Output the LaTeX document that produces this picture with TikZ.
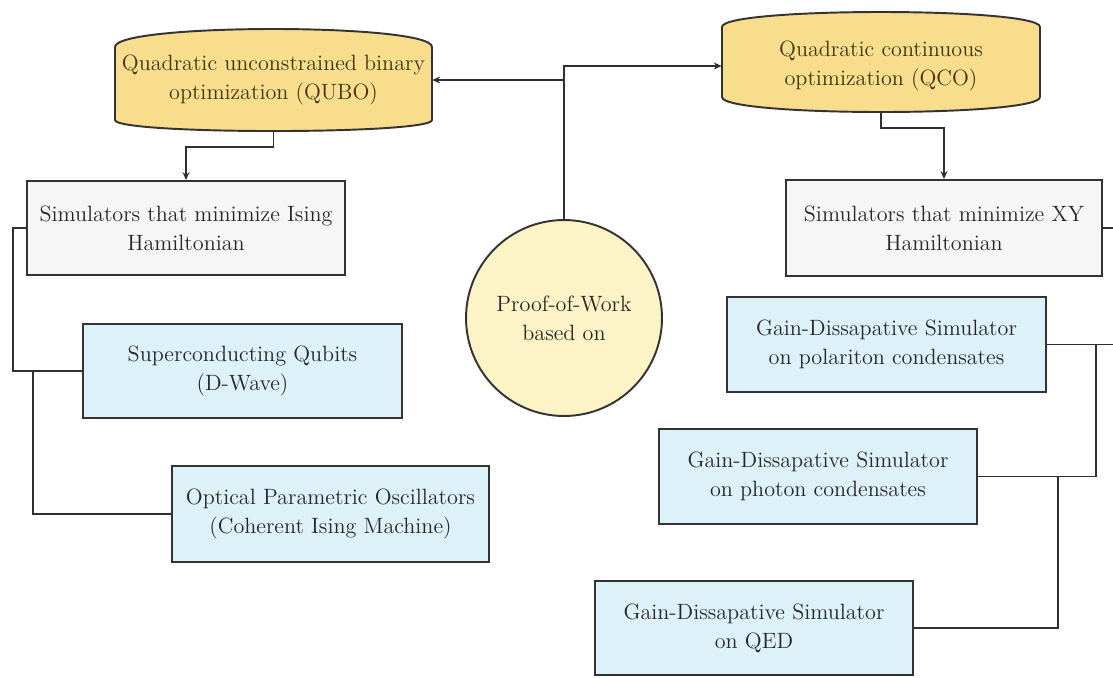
\documentclass[tikz,border=0pt]{standalone}
\usetikzlibrary{arrows.meta,shapes.geometric}
\definecolor{linec}{HTML}{303030}
\definecolor{boxc}{HTML}{333333}
\definecolor{grayf}{HTML}{F6F6F6}
\definecolor{bluef}{HTML}{DDF1F9}
\definecolor{cylf}{HTML}{F8DD8C}
\definecolor{circf}{HTML}{FCF3C6}
\definecolor{textc}{HTML}{262626}
\definecolor{cyltextc}{HTML}{3E3410}
\tikzset{
  txt/.style={font=\fontsize{12.6}{16.5}\selectfont},
  conn/.style={draw=linec, line width=1pt},
  arr/.style={conn, -{Stealth[length=4.5pt,width=4pt]}},
  graybox/.style={txt, draw=boxc, line width=1.1pt, fill=grayf, align=center, text=textc, inner sep=0pt},
  bluebox/.style={graybox, fill=bluef},
  cylshape/.style={draw=boxc, line width=1.1pt, fill=cylf},
  cyltext/.style={txt, align=center, text=cyltextc, inner sep=0pt},
  circnode/.style={txt, circle, draw=boxc, line width=1.1pt, fill=circf, align=center, text=textc, inner sep=0pt},
}
\begin{document}
\begin{tikzpicture}[x=0.02cm,y=-0.02cm]
\useasboundingbox (0,0) rectangle (1113,677);
\fill[white] (0,0) rectangle (1113,677);
% cylinders
\draw[cylshape] (115,47) .. controls (115,23) and (432,23) .. (432,47) -- (432,120)
   .. controls (432,134.7) and (115,134.7) .. (115,120) -- cycle;
\draw[cylshape] (722,27) .. controls (722,7) and (1040,7) .. (1040,27) -- (1040,97)
   .. controls (1040,117) and (722,117) .. (722,97) -- cycle;
\node[cyltext, minimum width=6.34cm, minimum height=2.04cm] (qubo) at (273.5,80)
   {Quadratic unconstrained binary\\optimization (QUBO)};
\node[cyltext, minimum width=6.36cm, minimum height=1.84cm] (qco) at (881,66)
   {Quadratic continuous\\optimization (QCO)};
% boxes
\node[graybox, minimum width=6.36cm, minimum height=1.88cm] (ising) at (186,228)
   {Simulators that minimize Ising\\Hamiltonian};
\node[graybox, minimum width=6.32cm, minimum height=1.92cm] (xy) at (944,228)
   {Simulators that minimize XY\\Hamiltonian};
\node[bluebox, minimum width=6.38cm, minimum height=1.88cm] (sc) at (242.5,371)
   {Superconducting Qubits\\(D-Wave)};
\node[bluebox, minimum width=6.34cm, minimum height=1.92cm] (opo) at (330.5,514)
   {Optical Parametric Oscillators\\(Coherent Ising Machine)};
\node[bluebox, minimum width=6.38cm, minimum height=1.90cm] (pol) at (886.5,344.5)
   {Gain-Dissapative Simulator\\on polariton condensates};
\node[bluebox, minimum width=6.36cm, minimum height=1.90cm] (pho) at (818,476.5)
   {Gain-Dissapative Simulator\\on photon condensates};
\node[bluebox, minimum width=6.36cm, minimum height=1.88cm] (qed) at (754,628)
   {Gain-Dissapative Simulator\\on QED};
\node[circnode, minimum size=3.92cm] (pow) at (564,318) {Proof-of-Work\\based on};
% helper coordinates
\coordinate (l1) at (13,0);
\coordinate (l2) at (33,0);
\coordinate (v1) at (1096,0);
\coordinate (v2) at (1058,0);
\coordinate (edge) at (1113,0);
% connectors
\draw[arr] (pow.north) |- (qco.west);
\draw[arr] (pow.north |- qubo.east) -- (qubo.east);
\draw[arr] (qubo.south) -- ++(0,16) -| (ising.north);
\draw[arr] (qco.south) -- ++(0,16) -| (xy.north);
\draw[conn] (ising.west) -- (ising.west -| l1) |- (sc.west);
\draw[conn] (sc.west -| l2) |- (opo.west);
\draw[conn] (xy.east) -- (xy.east -| edge);
\draw[conn] (pol.east) -- (pol.east -| edge);
\draw[conn] (pol.east -| v1) |- (pho.east);
\draw[conn] (pho.east -| v2) |- (qed.east);
\end{tikzpicture}
\end{document}
